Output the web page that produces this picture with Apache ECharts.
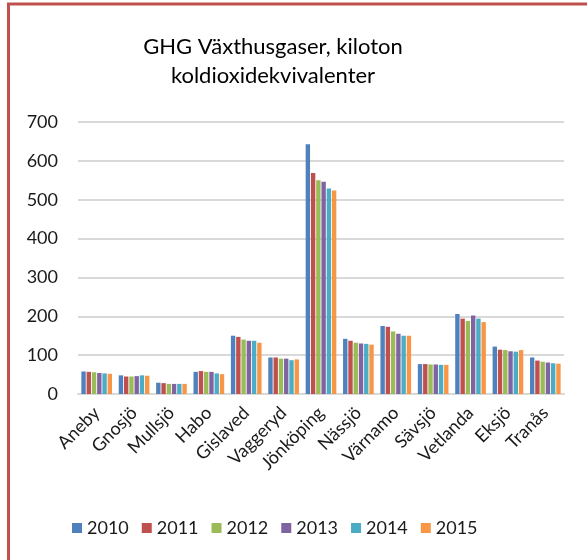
<!DOCTYPE html>
<html>
<head>
<meta charset="utf-8">
<script src="https://cdn.jsdelivr.net/npm/echarts@6/dist/echarts.min.js"></script>
<style>
  html, body { margin: 0; padding: 0; background: #fff; }
  #chart { width: 587px; height: 560px; }
</style>
</head>
<body>
<div id="chart"></div>
<script>
// kommuner
var kommuner = ['Aneby', 'Gnosjö', 'Mullsjö', 'Habo', 'Gislaved', 'Vaggeryd', 'Jönköping',
                'Nässjö', 'Värnamo', 'Sävsjö', 'Vetlanda', 'Eksjö', 'Tranås'];
var years = ['2010', '2011', '2012', '2013', '2014', '2015'];

// kiloton CO2e per year, same order as kommuner
var v2010 = [58, 48, 29, 57, 150, 94, 643, 142, 175, 77, 206, 122, 94];
var v2011 = [57, 45, 28, 59, 147, 94, 569, 137, 173, 77, 194, 114, 86];
var v2012 = [56, 45, 26, 57, 140, 91, 550, 132, 161, 76, 188, 113, 83];
var v2013 = [54, 46, 26, 57, 137, 91, 546, 130, 155, 76, 202, 110, 81];
var v2014 = [53, 48, 26, 53, 137, 87, 529, 129, 150, 75, 194, 109, 79];
var v2015 = [52, 47, 26, 51, 132, 89, 524, 127, 150, 75, 185, 113, 78];
var yTicks = [0, 100, 200, 300, 400, 500, 600, 700];

var colors = ['#4f81bd', '#c0504d', '#9bbb59', '#8064a2', '#4bacc6', '#f79646'];
var font = 'Lato, "Open Sans", sans-serif';

var chart = echarts.init(document.getElementById('chart'));

var values = [v2010, v2011, v2012, v2013, v2014, v2015];
var series = years.map(function (y, i) {
    return {
        name: y,
        type: 'bar',
        data: values[i],
        barGap: '20%',
        barCategoryGap: '18%',
        itemStyle: { color: colors[i] }
    };
});

var option = {
    animation: false,
    color: colors,
    textStyle: { fontFamily: font },
    title: {
        text: 'GHG Växthusgaser, kiloton\nkoldioxidekvivalenter',
        left: 268,
        top: 27,
        textAlign: 'center',
        textStyle: {
            fontFamily: font,
            fontSize: 22,
            fontWeight: 'normal',
            color: '#000',
            lineHeight: 29
        }
    },
    legend: {
        data: years,
        left: 72,
        top: 519,
        padding: 0,
        itemWidth: 10,
        itemHeight: 10,
        itemGap: 13,
        icon: 'rect',
        textStyle: { fontFamily: font, fontSize: 18, color: '#1a1a1a', padding: [0, 0, 0, 0] }
    },
    grid: {
        left: 78,
        right: 23,
        top: 122,
        bottom: 166,
        containLabel: false
    },
    xAxis: {
        type: 'category',
        data: kommuner,
        axisLine: { lineStyle: { color: '#d9d9d9', width: 2 } },
        axisTick: { show: false },
        axisLabel: {
            rotate: 45,
            interval: 0,
            margin: 16,
            fontFamily: font,
            fontSize: 18,
            color: '#1a1a1a'
        }
    },
    yAxis: {
        type: 'value',
        min: yTicks[0],
        max: yTicks[yTicks.length - 1],
        interval: 100,
        axisLine: { show: false },
        axisTick: { show: false },
        splitLine: { lineStyle: { color: '#d9d9d9', width: 2 } },
        axisLabel: {
            margin: 20,
            fontFamily: font,
            fontSize: 18,
            color: '#1a1a1a'
        }
    },
    graphic: [
        // ram runt diagrammet (vänster + topp)
        { type: 'line', shape: { x1: 8.5, y1: 4, x2: 8.5, y2: 560 }, style: { stroke: '#c0504d', lineWidth: 3 } },
        { type: 'line', shape: { x1: 7, y1: 4, x2: 587, y2: 4 }, style: { stroke: '#c0504d', lineWidth: 3 } }
    ],
    series: series
};

chart.setOption(option);
</script>
</body>
</html>
